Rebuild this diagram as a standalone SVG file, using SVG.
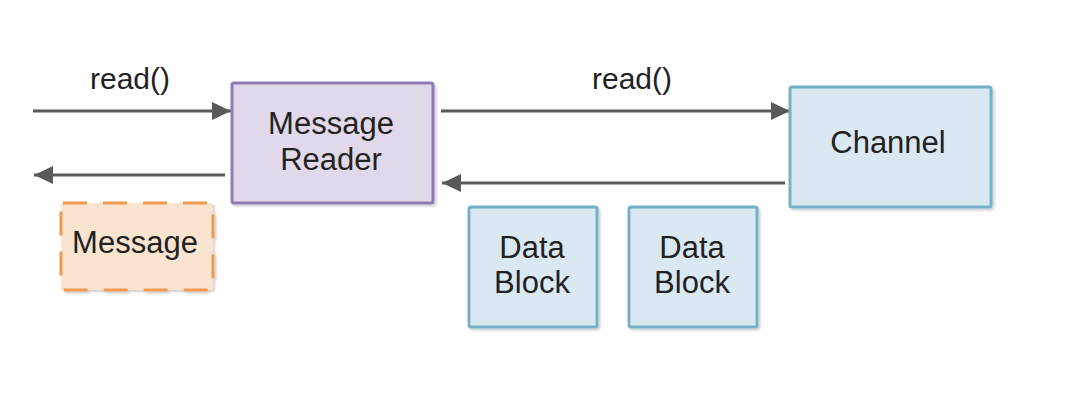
<svg xmlns="http://www.w3.org/2000/svg" width="1066" height="406" viewBox="0 0 1066 406">
<style>
  .lbl { font-family: "Liberation Sans", Arial, sans-serif; font-size: 31px; fill: #222; text-anchor: middle; }
  .edge { font-family: "Liberation Sans", Arial, sans-serif; font-size: 30px; fill: #222; text-anchor: middle; }
  .conn { stroke: #595959; stroke-width: 3; fill: none; }
  .blue { fill: #dae9f1; stroke: #74b1c8; stroke-width: 3; }
  .purple { fill: #e1d9e9; stroke: #8f7cb6; stroke-width: 3; }
  .orange { fill: #fae4d0; stroke: #ef9a4f; stroke-width: 3; stroke-dasharray: 24 16; }
</style>
<defs>
  <marker id="arr" markerUnits="userSpaceOnUse" markerWidth="20" markerHeight="18" refX="19" refY="9" orient="auto">
    <path d="M0,0 L19,9 L0,18 Z" fill="#595959"/>
  </marker>
  <filter id="sh" x="-10%" y="-10%" width="130%" height="130%">
    <feDropShadow dx="2" dy="2" stdDeviation="1" flood-color="#000" flood-opacity="0.18"/>
  </filter>
</defs>
<rect width="1066" height="406" fill="#ffffff"/>
<g id="connectors">
  <line class="conn" x1="33" y1="111" x2="231" y2="111" marker-end="url(#arr)"/>
  <text class="edge" x="130" y="89">read()</text>
  <line class="conn" x1="225" y1="175" x2="34" y2="175" marker-end="url(#arr)"/>
  <line class="conn" x1="441" y1="111" x2="790" y2="111" marker-end="url(#arr)"/>
  <text class="edge" x="632" y="89">read()</text>
  <line class="conn" x1="785" y1="183" x2="442" y2="183" marker-end="url(#arr)"/>
</g>
<g id="message-reader">
  <rect class="purple" x="232" y="83" width="201" height="120" rx="2" filter="url(#sh)"/>
  <text class="lbl" x="331" y="134">Message</text>
  <text class="lbl" x="331" y="170">Reader</text>
</g>
<g id="channel">
  <rect class="blue" x="790" y="87" width="201" height="120" rx="2" filter="url(#sh)"/>
  <text class="lbl" x="888" y="153">Channel</text>
</g>
<g id="message">
  <rect class="orange" x="61" y="203" width="152" height="87" rx="2" filter="url(#sh)"/>
  <text class="lbl" x="135" y="253">Message</text>
</g>
<g id="data-block-1">
  <rect class="blue" x="469" y="207" width="128" height="120" rx="2" filter="url(#sh)"/>
  <text class="lbl" x="532" y="258">Data</text>
  <text class="lbl" x="532" y="293">Block</text>
</g>
<g id="data-block-2">
  <rect class="blue" x="629" y="207" width="128" height="120" rx="2" filter="url(#sh)"/>
  <text class="lbl" x="692" y="258">Data</text>
  <text class="lbl" x="692" y="293">Block</text>
</g>
</svg>
